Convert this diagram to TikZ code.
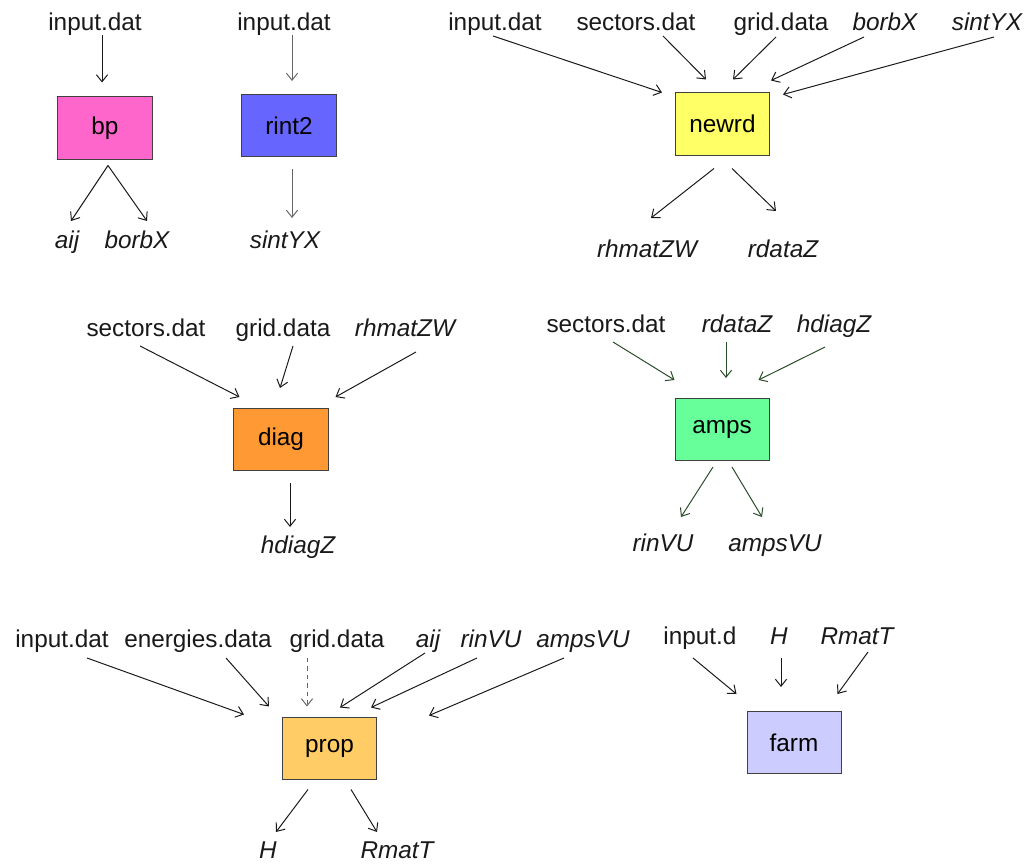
\documentclass[tikz,border=0pt]{standalone}
\usepackage{fontspec}
\setmainfont{Liberation Sans}
\usetikzlibrary{arrows.meta,
	calc}

\definecolor{bppink}{RGB}{255,102,204}
\definecolor{rintblue}{RGB}{102,102,255}
\definecolor{newrdyellow}{RGB}{255,255,102}
\definecolor{diagorange}{RGB}{255,153,51}
\definecolor{ampsgreen}{RGB}{102,255,153}
\definecolor{propgold}{RGB}{255,204,102}
\definecolor{farmlilac}{RGB}{204,204,255}
\definecolor{ampsline}{RGB}{40,75,40}

\begin{document}
\begin{tikzpicture}[x=0.025cm,y=-0.025cm,font=\fontsize{17.3}{20}\selectfont]
	\tikzstyle{prog}=[draw=black!75,line width=0.7pt,minimum width=2.35cm,minimum height=1.55cm,inner sep=0pt]
	\tikzstyle{file}=[anchor=base,inner sep=0pt,text=black!90]
	\tikzstyle{var}=[file,font=\fontsize{17.3}{20}\selectfont\itshape]
	\tikzstyle{flow}=[-{Straight Barb[length=5pt,width=8pt]},line width=0.7pt,black!90]
	\useasboundingbox (0,0) rectangle (1028,866);

	% bp
	\node[prog,fill=bppink] (bp) at (105,128) {bp};
	\node[file] (bp-in) at (95,31) {input.dat};
	\node[var] (bp-aij) at (67,249) {aij};
	\node[var] (bp-borb) at (137,249) {borbX};
	\draw[flow] ($(bp-in.base)+(7,4)$) -- ($(bp.north)+(-3,-14)$);
	\draw[flow] ($(bp.south)+(3,6)$) -- ($(bp-aij.base)+(4,-28)$);
	\draw[flow] ($(bp.south)+(3,6)$) -- ($(bp-borb.base)+(10,-28)$);

	% rint2
	\node[prog,fill=rintblue] (rint) at (289,125.5) {rint2};
	\node[file] (rint-in) at (284,31) {input.dat};
	\node[var] (rint-sint) at (285,249) {sintYX};
	\draw[flow,black!60] ($(rint-in.base)+(8,4)$) -- ($(rint.north)+(3,-13)$);
	\draw[flow,black!60] ($(rint.south)+(3,12)$) -- ($(rint-sint.base)+(7,-31)$);

	% newrd
	\node[prog,fill=newrdyellow] (newrd) at (722.5,124) {newrd};
	\node[file] (nw-in) at (495,31) {input.dat};
	\node[file] (nw-sec) at (636,31) {sectors.dat};
	\node[file] (nw-grid) at (781,31) {grid.data};
	\node[var] (nw-borb) at (885,31) {borbX};
	\node[var] (nw-sint) at (987,31) {sintYX};
	\node[var] (nw-rhmat) at (647,258) {rhmatZW};
	\node[var] (nw-rdata) at (783,258) {rdataZ};
	\draw[flow] ($(nw-in.base)+(-2,5)$) -- ($(newrd.north west)+(-13,0)$);
	\draw[flow] ($(nw-sec.base)+(27,5)$) -- ($(newrd.north)+(-16.5,-13)$);
	\draw[flow] ($(nw-grid.base)+(-5,6)$) -- ($(newrd.north)+(10.5,-13)$);
	\draw[flow] ($(nw-borb.base)+(-21,6)$) -- ($(newrd.north east)+(1,-12)$);
	\draw[flow] ($(nw-sint.base)+(7,6)$) -- ($(newrd.north east)+(13,2)$);
	\draw[flow] ($(newrd.south)+(-8.5,13)$) -- ($(nw-rhmat.base)+(4,-40)$);
	\draw[flow] ($(newrd.south)+(9.5,13)$) -- ($(nw-rdata.base)+(-7,-47)$);

	% diag
	\node[prog,fill=diagorange] (diag) at (281,439.5) {diag};
	\node[file] (dg-sec) at (146,337) {sectors.dat};
	\node[file] (dg-grid) at (283,337) {grid.data};
	\node[var] (dg-rhmat) at (405,337) {rhmatZW};
	\node[var] (dg-hdiag) at (298,553) {hdiagZ};
	\draw[flow] ($(dg-sec.base)+(-6,9)$) -- ($(diag.north west)+(6,-11)$);
	\draw[flow] ($(dg-grid.base)+(10,9)$) -- ($(diag.north)+(-1,-20)$);
	\draw[flow] ($(dg-rhmat.base)+(11,15)$) -- ($(diag.north east)+(7,-11)$);
	\draw[flow] ($(diag.south)+(9,12)$) -- ($(dg-hdiag.base)+(-8,-26)$);

	% amps
	\node[prog,fill=ampsgreen] (amps) at (722,429.5) {amps};
	\node[file] (am-sec) at (606,333) {sectors.dat};
	\node[var] (am-rdata) at (737,333) {rdataZ};
	\node[var] (am-hdiag) at (834,333) {hdiagZ};
	\node[var] (am-rin) at (663,552) {rinVU};
	\node[var] (am-amps) at (775,552) {ampsVU};
	\draw[flow,ampsline] ($(am-sec.base)+(7,9)$) -- ($(amps.north west)+(0,-18)$);
	\draw[flow,ampsline] ($(am-rdata.base)+(-11,9)$) -- ($(amps.north)+(4,-20)$);
	\draw[flow,ampsline] ($(am-hdiag.base)+(-9,14)$) -- ($(amps.north east)+(-11,-18)$);
	\draw[flow,ampsline] ($(amps.south)+(-9,6)$) -- ($(am-rin.base)+(18,-35)$);
	\draw[flow,ampsline] ($(amps.south)+(10,6)$) -- ($(am-amps.base)+(-13,-35)$);

	% prop
	\node[prog,fill=propgold] (prop) at (329.5,748) {prop};
	\node[file] (pr-in) at (62,647) {input.dat};
	\node[file] (pr-en) at (198,647) {energies.data};
	\node[file] (pr-grid) at (337,647) {grid.data};
	\node[var] (pr-aij) at (428,647) {aij};
	\node[var] (pr-rin) at (491,647) {rinVU};
	\node[var] (pr-amps) at (583,647) {ampsVU};
	\node[var] (pr-H) at (268,858) {H};
	\node[var] (pr-rmat) at (397,858) {RmatT};
	\draw[flow] ($(pr-in.base)+(25,11)$) -- ($(prop.north west)+(-38,-2)$);
	\draw[flow] ($(pr-en.base)+(28,11)$) -- ($(prop.north west)+(-13,-10)$);
	\draw[flow,black!60,dashed] ($(pr-grid.base)+(-30,11)$) -- ($(prop.north)+(-22.5,-10)$);
	\draw[flow] ($(pr-aij.base)+(-3,6)$) -- ($(prop.north)+(10.5,-9)$);
	\draw[flow] ($(pr-rin.base)+(-14,11)$) -- ($(prop.north east)+(-6,-9)$);
	\draw[flow] ($(pr-amps.base)+(-19,11)$) -- ($(prop.north east)+(52,-1)$);
	\draw[flow] ($(prop.south)+(-21.5,10)$) -- ($(pr-H.base)+(8,-26)$);
	\draw[flow] ($(prop.south)+(21.5,10)$) -- ($(pr-rmat.base)+(-20,-26)$);

	% farm
	\node[prog,fill=farmlilac] (farm) at (794,742.5) {farm};
	\node[file] (fm-in) at (700,644) {input.d};
	\node[var] (fm-H) at (779,644) {H};
	\node[var] (fm-rmat) at (857,644) {RmatT};
	\draw[flow] ($(fm-in.base)+(-7,14)$) -- ($(farm.north west)+(-10,-17)$);
	\draw[flow] ($(fm-H.base)+(2,14)$) -- ($(farm.north)+(-13,-24)$);
	\draw[flow] ($(fm-rmat.base)+(11,8)$) -- ($(farm.north east)+(-4,-17)$);
\end{tikzpicture}
\end{document}
